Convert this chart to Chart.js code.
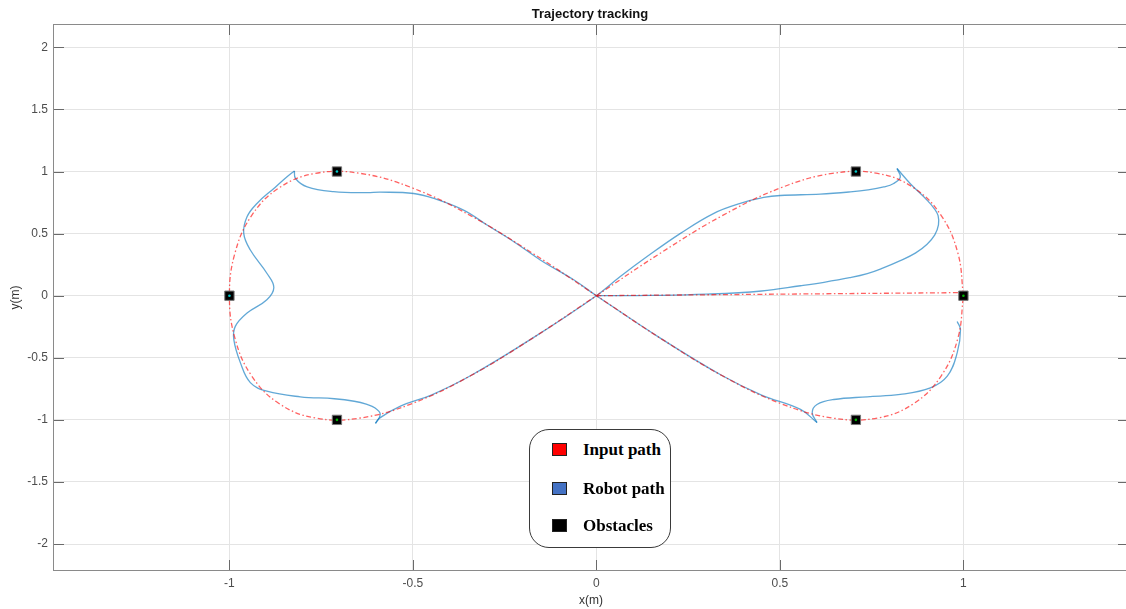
<!DOCTYPE html>
<html>
<head>
<meta charset="utf-8">
<script src="https://cdn.jsdelivr.net/npm/chart.js@4.4.1/dist/chart.umd.min.js"></script>
<style>
  html, body { margin: 0; padding: 0; background: #fff; }
  #wrap { position: relative; width: 1126px; height: 609px; overflow: hidden; }
  #c { display: block; }
  #legend {
    position: absolute; left: 529px; top: 429px; width: 142px; height: 119px;
    box-sizing: border-box; border: 1px solid #3a3a3a; border-radius: 20px; background: #fff;
    font-family: "Liberation Serif", "Times New Roman", serif; font-weight: bold; font-size: 17px; color: #000;
  }
  .row { position: absolute; left: 0; height: 20px; line-height: 20px; }
  .sw { position: absolute; left: 22px; top: 3px; width: 15px; height: 13px; box-sizing: border-box; border: 1px solid #222; }
  .lab { position: absolute; left: 53px; top: 0; white-space: nowrap; }
</style>
</head>
<body>
<div id="wrap">
  <canvas id="c" width="1126" height="609"></canvas>
  <div id="legend"></div>
</div>
<script>
// ---------------- data ----------------
const chartTitle = "Trajectory tracking";
const xAxisTitle = "x(m)";
const yAxisTitle = "y(m)";
const xTickValues = [-1, -0.5, 0, 0.5, 1];
const yTickValues = [-2, -1.5, -1, -0.5, 0, 0.5, 1, 1.5, 2];
const legendNames = ["Input path", "Robot path", "Obstacles"];

// input path: straight start from origin, then the figure-eight
const inputStart = [[0, 0], [1, 0.025]];
const inputLoop = [
  [1.000, 0.000], [0.985, 0.342], [0.940, 0.643], [0.866, 0.866], [0.766, 0.985],
  [0.643, 0.985], [0.500, 0.866], [0.342, 0.643], [0.174, 0.342], [0.000, 0.000],
  [-0.174, -0.342], [-0.342, -0.643], [-0.500, -0.866], [-0.643, -0.985], [-0.766, -0.985],
  [-0.866, -0.866], [-0.940, -0.643], [-0.985, -0.342], [-1.000, 0.000], [-0.985, 0.342],
  [-0.940, 0.643], [-0.866, 0.866], [-0.766, 0.985], [-0.643, 0.985], [-0.500, 0.866],
  [-0.342, 0.643], [-0.174, 0.342], [0.000, 0.000], [0.174, -0.342], [0.342, -0.643],
  [0.500, -0.866], [0.643, -0.985], [0.766, -0.985], [0.866, -0.866], [0.940, -0.643],
  [0.985, -0.342], [1.000, 0.000]
];

// robot path, split at its cusps
const robotSeg1 = [
  [0, 0], [0.15, 0.002], [0.30, 0.012], [0.45, 0.038], [0.556, 0.08], [0.62, 0.108],
  [0.69, 0.145], [0.738, 0.178], [0.78, 0.222], [0.828, 0.282], [0.87, 0.345],
  [0.901, 0.415], [0.922, 0.49], [0.932, 0.57], [0.931, 0.645],
  [0.921, 0.70], [0.900, 0.772], [0.856, 0.90], [0.819, 1.024]
];
const robotSeg2 = [
  [0.819, 1.024], [0.828, 0.955], [0.81, 0.904], [0.783, 0.876], [0.74, 0.852],
  [0.692, 0.836], [0.61, 0.818], [0.501, 0.807], [0.456, 0.791], [0.392, 0.743],
  [0.320, 0.663], [0.229, 0.502], [0.138, 0.315], [0.065, 0.154], [0, 0],
  [-0.174, -0.342], [-0.342, -0.643], [-0.45, -0.80], [-0.534, -0.889],
  [-0.589, -0.982], [-0.602, -1.028]
];
const robotSeg3 = [
  [-0.602, -1.028], [-0.589, -0.955], [-0.603, -0.905], [-0.625, -0.876], [-0.66, -0.85],
  [-0.714, -0.83], [-0.807, -0.814], [-0.898, -0.769], [-0.943, -0.70], [-0.970, -0.541],
  [-0.988, -0.354], [-0.984, -0.247], [-0.952, -0.14], [-0.898, -0.033], [-0.879, 0.066],
  [-0.898, 0.181], [-0.943, 0.368], [-0.961, 0.502], [-0.952, 0.636], [-0.925, 0.743],
  [-0.879, 0.864], [-0.843, 0.957], [-0.823, 1.005]
];
const robotSeg4 = [
  [-0.823, 1.005], [-0.820, 0.944], [-0.788, 0.876], [-0.716, 0.838], [-0.625, 0.830],
  [-0.589, 0.834], [-0.498, 0.823], [-0.443, 0.783], [-0.362, 0.689], [-0.298, 0.569],
  [-0.225, 0.435], [-0.153, 0.288], [-0.062, 0.128], [0, 0], [0.174, -0.342],
  [0.342, -0.643], [0.45, -0.80], [0.556, -0.916], [0.601, -1.022]
];
const robotSeg5 = [
  [0.601, -1.022], [0.588, -0.942], [0.601, -0.876], [0.647, -0.836], [0.738, -0.814],
  [0.828, -0.795], [0.910, -0.742], [0.956, -0.648], [0.983, -0.461], [0.992, -0.274],
  [0.983, -0.207]
];

const obstaclesCyan = [[0.707, 1], [-0.707, 1], [-1, 0]];
const obstaclesGreen = [[1, 0], [-0.707, -1], [0.707, -1]];

// ---------------- styles ----------------
const RED = "rgba(255,0,0,0.62)";
const BLUE = "rgba(0,114,189,0.62)";
const toXY = arr => arr.map(p => ({ x: p[0], y: p[1] }));

function lineDs(arr, color, dash, tension) {
  return {
    data: toXY(arr), showLine: true, borderColor: color, borderWidth: 1.3,
    borderDash: dash, pointRadius: 0, pointHoverRadius: 0, tension: tension, fill: false
  };
}

const allObstacles = obstaclesCyan.concat(obstaclesGreen);
const datasets = [
  { data: toXY(obstaclesCyan), pointStyle: "circle", pointRadius: 1.3, pointBorderWidth: 0,
    pointBackgroundColor: "#00c8c8", showLine: false },
  { data: toXY(obstaclesGreen), pointStyle: "circle", pointRadius: 1.3, pointBorderWidth: 0,
    pointBackgroundColor: "#00b400", showLine: false },
  { data: toXY(allObstacles), pointStyle: "rect", pointRadius: 6.6, pointBorderWidth: 1,
    pointBackgroundColor: "#000", pointBorderColor: "#777", showLine: false },
  lineDs(inputStart, RED, [5, 2.5, 1.5, 2.5], 0),
  lineDs(inputLoop, RED, [5, 2.5, 1.5, 2.5], 0.4),
  lineDs(robotSeg1, BLUE, [], 0.4),
  lineDs(robotSeg2, BLUE, [], 0.4),
  lineDs(robotSeg3, BLUE, [], 0.4),
  lineDs(robotSeg4, BLUE, [], 0.4),
  lineDs(robotSeg5, BLUE, [], 0.4)
];

const TICK_FONT = { family: "'Liberation Sans', Arial, Helvetica, sans-serif", size: 12 };

const framePlugin = {
  id: "frame",
  afterDatasetsDraw(chart) {
    const { ctx, chartArea: a, scales } = chart;
    ctx.save();
    ctx.strokeStyle = "#6a6a6a";
    ctx.lineWidth = 1;
    ctx.beginPath();
    xTickValues.forEach(v => {
      const px = Math.round(scales.x.getPixelForValue(v)) + 0.5;
      ctx.moveTo(px, a.bottom); ctx.lineTo(px, a.bottom - 10);
      ctx.moveTo(px, a.top); ctx.lineTo(px, a.top + 10);
    });
    yTickValues.forEach(v => {
      const py = Math.round(scales.y.getPixelForValue(v)) + 0.5;
      ctx.moveTo(a.left, py); ctx.lineTo(a.left + 10, py);
      ctx.moveTo(a.right, py); ctx.lineTo(a.right - 8, py);
    });
    ctx.stroke();
    ctx.strokeStyle = "#8a8a8a";
    ctx.strokeRect(a.left - 0.5, a.top - 0.5, a.right - a.left + 1.5, a.bottom - a.top + 1);
    ctx.restore();
  },
  afterDraw(chart) {
    const { ctx, chartArea: a } = chart;
    const cx = (a.left + a.right) / 2;
    ctx.save();
    ctx.fillStyle = "#111";
    ctx.textAlign = "center";
    ctx.textBaseline = "alphabetic";
    ctx.font = "bold 13px 'Liberation Sans', Arial, sans-serif";
    ctx.fillText(chartTitle, cx, 18);
    ctx.fillStyle = "#333";
    ctx.font = "12px 'Liberation Sans', Arial, sans-serif";
    ctx.textBaseline = "middle";
    ctx.fillText(xAxisTitle, cx + 1, 601);
    ctx.translate(16, (a.top + a.bottom) / 2);
    ctx.rotate(-Math.PI / 2);
    ctx.fillText(yAxisTitle, 0, 0);
    ctx.restore();
  }
};

new Chart(document.getElementById("c"), {
  type: "scatter",
  data: { datasets },
  plugins: [framePlugin],
  options: {
    responsive: false,
    animation: false,
    events: [],
    layout: { autoPadding: false, padding: { top: 25, right: 0, bottom: 0, left: 0 } },
    plugins: { legend: { display: false }, tooltip: { enabled: false }, title: { display: false } },
    scales: {
      x: {
        type: "linear", min: -1.478, max: 1.443,
        afterBuildTicks: s => { s.ticks = xTickValues.map(v => ({ value: v })); },
        afterFit: s => { s.height = 39; s.paddingLeft = 0; s.paddingRight = 0; },
        grid: { color: "#e4e4e4", drawTicks: false, lineWidth: 1 },
        border: { display: false },
        ticks: { padding: 6, color: "#4d4d4d", font: TICK_FONT, maxRotation: 0, autoSkip: false,
                 callback: v => String(v) }
      },
      y: {
        type: "linear", min: -2.209, max: 2.18,
        afterBuildTicks: s => { s.ticks = yTickValues.map(v => ({ value: v })); },
        afterFit: s => { s.width = 54; s.paddingTop = 0; s.paddingBottom = 0; },
        grid: { color: "#e4e4e4", drawTicks: false, lineWidth: 1 },
        border: { display: false },
        ticks: { padding: 6, color: "#4d4d4d", font: TICK_FONT, autoSkip: false,
                 callback: v => String(v) }
      }
    }
  }
});

// ---------------- legend (HTML) ----------------
const legendColors = ["#ff0000", "#4472c4", "#000000"];
const legendRowTops = [10, 49, 86];
const legendEl = document.getElementById("legend");
legendNames.forEach((name, i) => {
  const row = document.createElement("div");
  row.className = "row";
  row.style.top = legendRowTops[i] + "px";
  row.style.width = "100%";
  const sw = document.createElement("div");
  sw.className = "sw";
  sw.style.background = legendColors[i];
  const lab = document.createElement("div");
  lab.className = "lab";
  lab.textContent = name;
  row.appendChild(sw); row.appendChild(lab);
  legendEl.appendChild(row);
});
</script>
</body>
</html>
